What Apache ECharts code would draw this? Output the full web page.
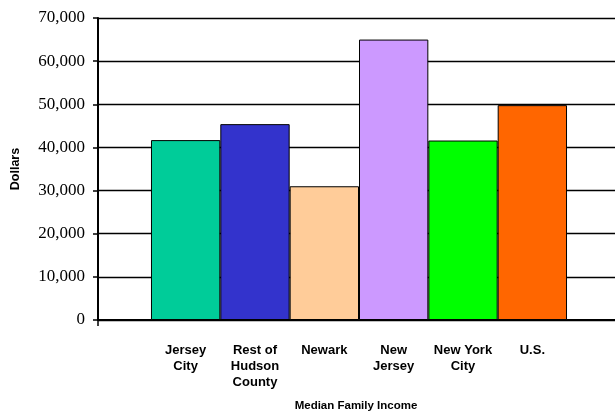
<!DOCTYPE html>
<html>
<head>
<meta charset="utf-8">
<script src="https://cdn.jsdelivr.net/npm/echarts@6/dist/echarts.min.js"></script>
<style>html,body{margin:0;padding:0;background:#fff}#c{width:615px;height:415px}</style>
</head>
<body>
<div id="c"></div>
<script>
const categories = ['Median Family Income'];
const seriesNames = ['Jersey\nCity', 'Rest of\nHudson\nCounty', 'Newark', 'New\nJersey', 'New York\nCity', 'U.S.'];
const seriesValues = [41700, 45400, 31000, 65000, 41600, 49800];
const seriesColors = ['#00CC99', '#3333CC', '#FFCC99', '#CC99FF', '#00FF00', '#FF6600'];
const yTicks = [0, 10000, 20000, 30000, 40000, 50000, 60000, 70000];

const chart = echarts.init(document.getElementById('c'), null, {renderer: 'canvas'});
const series = seriesNames.map((n, i) => ({
  name: n,
  type: 'bar',
  data: [seriesValues[i]],
  barGap: '0%',
  barCategoryGap: '20.3%',
  itemStyle: {color: seriesColors[i], borderColor: '#000', borderWidth: 1},
  label: {
    show: true,
    position: 'bottom',
    distance: 22,
    formatter: () => n,
    fontFamily: 'Liberation Sans, Arial, sans-serif',
    fontWeight: 'bold',
    fontSize: 13,
    lineHeight: 16,
    color: '#000',
    align: 'center'
  },
  emphasis: {disabled: true},
  animation: false
}));

chart.setOption({
  animation: false,
  grid: {left: 98, width: 522, top: 18, bottom: 95, containLabel: false, outerBoundsMode: 'none'},
  xAxis: {
    type: 'category',
    data: categories,
    axisLine: {lineStyle: {color: '#000', width: 2}},
    axisTick: {show: true, length: 6, lineStyle: {color: '#000', width: 1.5}},
    axisLabel: {
      margin: 80,
      padding: [0, 6, 0, 0],
      fontFamily: 'Liberation Sans, Arial, sans-serif',
      fontWeight: 'bold',
      fontSize: 11.5,
      color: '#000'
    }
  },
  yAxis: {
    type: 'value',
    min: 0,
    max: 70000,
    interval: 10000,
    name: 'Dollars',
    nameLocation: 'middle',
    nameRotate: 90,
    nameGap: 76,
    nameTextStyle: {fontFamily: 'Liberation Sans, Arial, sans-serif', fontWeight: 'bold', fontSize: 12.5, color: '#000'},
    axisLine: {show: true, lineStyle: {color: '#000', width: 2}},
    axisTick: {show: true, length: 5, lineStyle: {color: '#000', width: 1.5}},
    splitLine: {show: true, lineStyle: {color: '#000', width: 1.3}},
    axisLabel: {
      margin: 13,
      fontFamily: 'Liberation Serif, Times New Roman, serif',
      fontSize: 17,
      color: '#000',
      formatter: v => yTicks.includes(v) ? v.toLocaleString('en-US') : ''
    }
  },
  series: series
});
</script>
</body>
</html>
